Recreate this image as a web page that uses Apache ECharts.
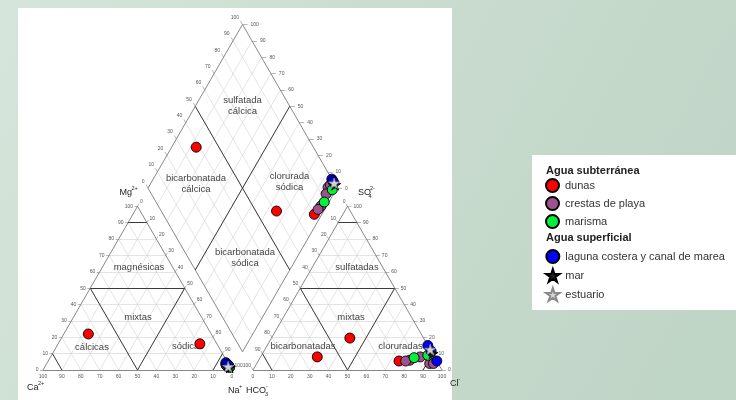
<!DOCTYPE html>
<html>
<head>
<meta charset="utf-8">
<script src="https://cdn.jsdelivr.net/npm/echarts@6/dist/echarts.min.js"></script>
<style>
  html, body { margin: 0; padding: 0; background: #c9dccf; }
  #chart { width: 736px; height: 400px; }
</style>
</head>
<body>
<div id="chart"></div>
<script>
// compositions in % meq/L
// cations: [Ca, Mg, Na+K]   anions: [HCO3, SO4, Cl]
const dunasCat = [[65, 22, 13], [9, 16, 75], [1.5, 2.5, 96]]
const dunasAn = [[62, 8, 30], [39, 19.5, 41.5], [20, 5.5, 74.5]]
const crestasCat = [[1.5, 3.5, 95], [1, 3, 96], [0.5, 2.5, 97], [1, 2.5, 96.5], [1.5, 3, 95.5]]
const crestasAn = [[4.5, 4, 91.5], [7.5, 8, 84.5], [14, 6, 80], [16.5, 5.5, 78], [2.5, 4, 93.5]]
const marismaCat = [[0.5, 1.5, 98], [0.5, 2, 97.5]]
const marismaAn = [[3, 9, 88], [11, 7.5, 81.5]]
const lagunaCat = [[1, 4.5, 94.5], [1, 3.5, 95.5], [0.5, 3, 96.5]]
const lagunaAn = [[0, 15, 85], [0, 11.5, 88.5], [0, 5.5, 94.5]]
const marCat = [[0.5, 1.5, 98]]
const marAn = [[0, 10, 90]]
const estuarioCat = [[1, 2, 97]]
const estuarioAn = [[0, 12.5, 87.5]]

const tickValues = [0, 10, 20, 30, 40, 50, 60, 70, 80, 90, 100]
const divisions = [10, 20, 30, 40, 50, 60, 70, 80, 90]

const FONT = 'Liberation Sans, Arial, sans-serif'

// piper geometry (data units of the hidden cartesian axes = pixels)
const S = 189
const H = S * Math.sqrt(3) / 2
const X0 = 43, Y0 = 370, GAP = 21
const X1 = X0 + S + GAP
const TX = X0 + S + GAP / 2
const TY = Y0 - GAP / 2 * Math.sqrt(3) - 2 * H

function cat(ca, mg, na) { return [X0 + (na + mg / 2) / 100 * S, Y0 - mg / 100 * H] }
function an(hc, so4, cl) { return [X1 + (cl + so4 / 2) / 100 * S, Y0 - so4 / 100 * H] }
function dia(na, hc) { return [TX + (na - hc) / 200 * S, TY + (na + hc) / 100 * H] }

function piperPoints(cations, anions) {
  const out = []
  cations.forEach((c, i) => {
    const a = anions[i]
    out.push(cat(c[0], c[1], c[2]), an(a[0], a[1], a[2]), dia(c[2], a[0]))
  })
  return out
}

const gridSegs = [], frameSegs = [], classSegs = [], tickSegs = []
divisions.forEach((k) => {
  gridSegs.push([cat(100 - k, k, 0), cat(0, k, 100 - k)], [cat(100 - k, 0, k), cat(0, 100 - k, k)], [cat(k, 0, 100 - k), cat(k, 100 - k, 0)])
  gridSegs.push([an(100 - k, k, 0), an(0, k, 100 - k)], [an(100 - k, 0, k), an(0, 100 - k, k)], [an(k, 0, 100 - k), an(k, 100 - k, 0)])
  gridSegs.push([dia(k, 0), dia(k, 100)], [dia(0, k), dia(100, k)])
})
frameSegs.push(
  [cat(100, 0, 0), cat(0, 0, 100)], [cat(100, 0, 0), cat(0, 100, 0)], [cat(0, 100, 0), cat(0, 0, 100)],
  [an(100, 0, 0), an(0, 0, 100)], [an(100, 0, 0), an(0, 100, 0)], [an(0, 100, 0), an(0, 0, 100)],
  [dia(0, 0), dia(100, 0)], [dia(100, 0), dia(100, 100)], [dia(100, 100), dia(0, 100)], [dia(0, 100), dia(0, 0)]
)
classSegs.push(
  [cat(50, 50, 0), cat(0, 50, 50)], [cat(50, 0, 50), cat(50, 50, 0)], [cat(50, 0, 50), cat(0, 50, 50)],
  [cat(10, 90, 0), cat(0, 90, 10)], [cat(90, 0, 10), cat(90, 10, 0)], [cat(10, 0, 90), cat(0, 10, 90)],
  [an(50, 50, 0), an(0, 50, 50)], [an(50, 0, 50), an(50, 50, 0)], [an(50, 0, 50), an(0, 50, 50)],
  [an(10, 90, 0), an(0, 90, 10)], [an(90, 0, 10), an(90, 10, 0)], [an(10, 0, 90), an(0, 10, 90)],
  [dia(50, 0), dia(50, 100)], [dia(0, 50), dia(100, 50)]
)

const texts = []
function txt(x, y, text, size, align, extra) {
  texts.push({
    type: 'text', z: 3, silent: true,
    style: Object.assign({
      text, x, y, align, textAlign: align, verticalAlign: 'middle', textVerticalAlign: 'middle',
      fontSize: size, fontFamily: FONT, fill: '#333'
    }, extra || {})
  })
}

tickValues.forEach((v) => {
  const tk = { fill: '#555' }
  let p = cat(v, 0, 100 - v); txt(p[0], p[1] + 7, String(v), 5, 'center', tk)
  p = cat(100 - v, v, 0); tickSegs.push([p, [p[0] - 3, p[1]]]); txt(p[0] - 4.5, p[1], String(v), 5, 'right', tk)
  p = cat(0, 100 - v, v); tickSegs.push([p, [p[0] + 1.5, p[1] - 2.6]]); txt(p[0] + 2.5, p[1] - 4.5, String(v), 5, 'left', tk)
  p = an(100 - v, 0, v); txt(p[0], p[1] + 7, String(v), 5, 'center', tk)
  p = an(v, 100 - v, 0); tickSegs.push([p, [p[0] - 1.5, p[1] - 2.6]]); txt(p[0] - 2, p[1] - 4.5, String(v), 5, 'right', tk)
  p = an(0, v, 100 - v); tickSegs.push([p, [p[0] + 4, p[1]]]); txt(p[0] + 6, p[1], String(v), 5, 'left', tk)
  p = dia(0, 100 - v); tickSegs.push([p, [p[0] - 2, p[1] - 3.5]]); txt(p[0] - 3.5, p[1] - 7, String(v), 5, 'right', tk)
  p = dia(100 - v, 0); tickSegs.push([p, [p[0] + 5, p[1]]]); txt(p[0] + 8, p[1], String(v), 5, 'left', tk)
})

// region names
const reg = { lineHeight: 11, fill: '#444' }
txt(242.5, 105.5, 'sulfatada\ncálcica', 9.5, 'center', reg)
txt(196, 183.5, 'bicarbonatada\ncálcica', 9.5, 'center', reg)
txt(289.5, 182, 'clorurada\nsódica', 9.5, 'center', reg)
txt(245, 258, 'bicarbonatada\nsódica', 9.5, 'center', reg)
txt(139, 267, 'magnésicas', 9.5, 'center', reg)
txt(138, 317, 'mixtas', 9.5, 'center', reg)
txt(92, 347, 'cálcicas', 9.5, 'center', reg)
txt(188, 346, 'sódicas', 9.5, 'center', reg)
txt(357, 267, 'sulfatadas', 9.5, 'center', reg)
txt(351, 317, 'mixtas', 9.5, 'center', reg)
txt(303, 346, 'bicarbonatadas', 9.5, 'center', reg)
txt(400.5, 346, 'cloruradas', 9.5, 'center', reg)

// ion titles
const ion = { fill: '#222' }
txt(27, 388, 'Ca', 9, 'left', ion); txt(38, 383, '2+', 5.5, 'left', ion)
txt(119.5, 193, 'Mg', 9, 'left', ion); txt(131.5, 188.5, '2+', 5.5, 'left', ion)
txt(228, 391, 'Na', 9, 'left', ion); txt(239, 386.5, '+', 5.5, 'left', ion)
txt(246, 391, 'HCO', 9, 'left', ion); txt(265, 394, '3', 5.5, 'left', ion); txt(266, 386.5, '-', 5.5, 'left', ion)
txt(450, 384, 'Cl', 9, 'left', ion); txt(458.5, 379.5, '-', 5.5, 'left', ion)
txt(358, 193, 'SO', 9, 'left', ion); txt(368.5, 196.5, '4', 5.5, 'left', ion); txt(370, 188.5, '2-', 5.5, 'left', ion)

// legend headings
txt(546, 171, 'Agua subterránea', 11, 'left', { fontWeight: 'bold', fill: '#222' })
txt(546, 238, 'Agua superficial', 11, 'left', { fontWeight: 'bold', fill: '#222' })

const STAR = 'path://M50 0L61.23 34.55L97.55 34.55L68.16 55.9L79.39 90.45L50 69.1L20.61 90.45L31.84 55.9L2.45 34.55L38.77 34.55Z'

function segSeries(segs, color, width, z) {
  return {
    type: 'lines', coordinateSystem: 'cartesian2d', silent: true, z,
    lineStyle: { color, width, opacity: 1 },
    data: segs.map((s) => ({ coords: s }))
  }
}

function dotSeries(name, cations, anions, symbol, size, color, border) {
  return {
    name, type: 'scatter', z: 5, symbol, symbolSize: size, symbolKeepAspect: true,
    itemStyle: { color, borderColor: border, borderWidth: 0.9, opacity: 1 },
    data: piperPoints(cations, anions)
  }
}

const legendText = { fontSize: 11, fontFamily: FONT, color: '#333', lineHeight: 12 }

const chart = echarts.init(document.getElementById('chart'))
chart.setOption({
  animation: false,
  backgroundColor: 'transparent',
  grid: { left: 0, right: 0, top: 0, bottom: 0 },
  xAxis: { type: 'value', min: 0, max: 736, show: false },
  yAxis: { type: 'value', min: 0, max: 400, inverse: true, show: false },
  legend: [
    {
      data: ['dunas', 'crestas de playa', 'marisma'],
      orient: 'vertical', left: 545, top: 178, padding: 0,
      itemWidth: 15, itemHeight: 13, itemGap: 3,
      selectedMode: false, textStyle: legendText
    },
    {
      data: ['laguna costera y canal de marea', 'mar', 'estuario'],
      orient: 'vertical', left: 545, top: 249, padding: 0,
      itemWidth: 15, itemHeight: 13, itemGap: 4,
      selectedMode: false, textStyle: legendText
    }
  ],
  graphic: [
    {
      type: 'rect', z: -10, silent: true,
      shape: { x: 0, y: 0, width: 736, height: 400 },
      style: {
        fill: new echarts.graphic.LinearGradient(0, 0, 1, 1, [
          { offset: 0, color: '#d6e5db' },
          { offset: 0.5, color: '#c8dbce' },
          { offset: 1, color: '#bed4c5' }
        ])
      }
    },
    { type: 'rect', z: -9, silent: true, shape: { x: 18, y: 8, width: 434, height: 392 }, style: { fill: '#ffffff' } },
    { type: 'rect', z: -9, silent: true, shape: { x: 532, y: 155, width: 204, height: 155 }, style: { fill: '#ffffff' } },
    ...texts
  ],
  series: [
    segSeries(gridSegs, '#d2d2d2', 0.6, 1),
    segSeries(frameSegs, '#7a7a7a', 0.9, 2),
    segSeries(classSegs, '#3c3c3c', 1, 2),
    segSeries(tickSegs, '#888888', 0.6, 2),
    dotSeries('dunas', dunasCat, dunasAn, 'circle', 10, '#ff0000', '#000'),
    dotSeries('crestas de playa', crestasCat, crestasAn, 'circle', 10, '#a0528e', '#000'),
    dotSeries('marisma', marismaCat, marismaAn, 'circle', 10, '#00f03c', '#000'),
    dotSeries('laguna costera y canal de marea', lagunaCat, lagunaAn, 'circle', 10, '#0000ff', '#000'),
    dotSeries('mar', marCat, marAn, STAR, 11, '#222222', '#000'),
    dotSeries('estuario', estuarioCat, estuarioAn, STAR, 11, '#d4d4d4', '#8a8a8a')
  ]
})
</script>
</body>
</html>
